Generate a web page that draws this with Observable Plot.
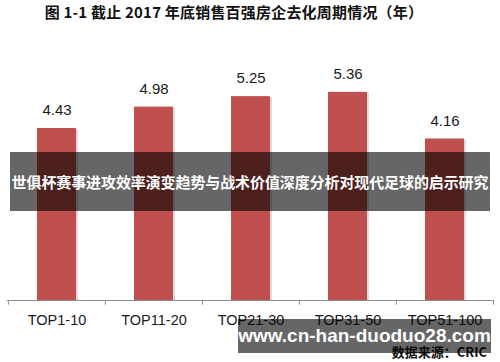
<!DOCTYPE html>
<html><head><meta charset="utf-8">
<script src="https://cdn.jsdelivr.net/npm/d3@7"></script>
<script src="https://cdn.jsdelivr.net/npm/@observablehq/plot@0.6"></script>
<style>
body{margin:0;background:#fff;}
#wrap{position:relative;width:500px;height:362px;overflow:hidden;font-family:"Liberation Sans",Arial,sans-serif;}
#wrap svg{position:absolute;left:0;top:0;}
.abs{position:absolute;white-space:nowrap;}
#title{left:0;width:468px;top:1px;text-align:center;font:bold 15px "Noto Sans CJK SC",sans-serif;color:#111;letter-spacing:0.2px;}
#source{right:13px;top:344px;font:bold 13px/16px "Noto Sans CJK SC",sans-serif;color:#111;}
#band{left:10px;width:480px;top:152px;height:59px;background:rgba(0,0,0,0.6);color:#fff;text-align:center;font:bold 15px/59px "Noto Sans CJK SC",sans-serif;letter-spacing:-0.1px;}
#wm{left:238px;width:253px;top:319px;height:34px;background:rgba(0,0,0,0.6);color:#fff;text-align:center;font:bold 19px/34px "Liberation Sans",Arial,sans-serif;}
</style></head>
<body><div id="wrap"></div>
<script>
const categories = ["TOP1-10","TOP11-20","TOP21-30","TOP31-50","TOP51-100"];
const values = [4.43, 4.98, 5.25, 5.36, 4.16];
const titleText = "图 1-1  截止 2017 年底销售百强房企去化周期情况（年）";
const sourceText = "数据来源：CRIC";
const bandText = "世俱杯赛事进攻效率演变趋势与战术价值深度分析对现代足球的启示研究";
const watermark = "www.cn-han-duoduo28.com";

const data = categories.map((c,i)=>({cat:c, v:values[i]}));
const step = 486/5;
const chart = Plot.plot({
  width:500, height:362,
  marginLeft:7, marginRight:7, marginTop:67, marginBottom:62,
  style:{fontFamily:"'Liberation Sans',Arial,sans-serif", background:"transparent"},
  x:{domain:categories, paddingInner:0.6, paddingOuter:0.3, axis:null},
  y:{domain:[0,6], axis:null},
  marks:[
    Plot.barY(data,{x:"cat", y:"v", fill:"#999", fillOpacity:0.35, dx:2, dy:1}),
    Plot.barY(data,{x:"cat", y:"v", fill:"#c0504d"}),
    Plot.ruleY([0],{stroke:"#8c8c8c", strokeWidth:1}),
    Plot.ruleX(categories,{x:d=>d, dx:-step/2, y1:0, y2:-0.12, stroke:"#8c8c8c"}),
    Plot.ruleX(categories.slice(-1),{x:d=>d, dx:step/2, y1:0, y2:-0.12, stroke:"#8c8c8c"}),
    Plot.text(data,{x:"cat", y:"v", text:d=>d.v.toFixed(2), dy:-18, fontSize:15, fill:"#1a1a1a"}),
    Plot.text(categories,{x:d=>d, y:0, text:d=>d, dy:20, fontSize:14.5, fill:"#1a1a1a"})
  ]
});
const wrap = document.getElementById("wrap");
wrap.appendChild(chart);
function add(id, txt){const d=document.createElement("div");d.id=id;d.className="abs";d.textContent=txt;wrap.appendChild(d);}
add("title", titleText);
add("source", sourceText);
add("band", bandText);
add("wm", watermark);
</script></body></html>
